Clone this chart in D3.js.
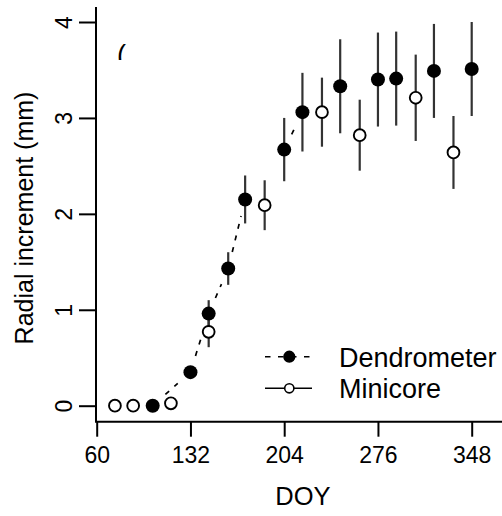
<!DOCTYPE html>
<html>
<head>
<meta charset="utf-8">
<script src="https://cdn.jsdelivr.net/npm/d3@7"></script>
<style>
  body { margin: 0; background: #fff; }
  svg text { font-family: "Liberation Sans", Arial, sans-serif; fill: #000; }
</style>
</head>
<body>
<div id="chart"></div>
<script>
// dendrometer series (filled)
var dendroDOY = [103, 132, 146, 161, 174, 204, 218, 247, 276, 290, 319, 348];
var dendroVal = [0, 0.35, 0.96, 1.43, 2.15, 2.67, 3.06, 3.33, 3.40, 3.41, 3.49, 3.51];
var dendroErr = [0, 0, 0.14, 0.17, 0.25, 0.33, 0.41, 0.49, 0.49, 0.49, 0.49, 0.49];

// minicore series (open)
var miniDOY = [74, 88, 117, 146, 189, 233, 262, 305, 334];
var miniVal = [0, 0, 0.025, 0.77, 2.09, 3.06, 2.82, 3.21, 2.64];
var miniErr = [0, 0, 0, 0.16, 0.26, 0.36, 0.37, 0.45, 0.38];

// which dendrometer points the dashed line joins
var dashPairs = [[103, 132], [132, 146], [146, 161], [161, 174], [204, 218]];

var xTicks = [60, 132, 204, 276, 348];
var yTicks = [0, 1, 2, 3, 4];
var legendLabels = ["Dendrometer", "Minicore"];

var W = 502, H = 516;
var svg = d3.select("#chart").append("svg")
    .attr("width", W).attr("height", H);

var x = d3.scaleLinear().domain([60, 348]).range([96.7, 471.7]);
var y = d3.scaleLinear().domain([0, 4]).range([405.7, 22]);

var axisX = 96, axisY = 421.7;

// L shaped box
svg.append("line")
    .attr("x1", axisX).attr("x2", axisX).attr("y1", 7).attr("y2", axisY)
    .attr("stroke", "#000").attr("stroke-width", 2);
svg.append("line")
    .attr("x1", axisX - 1).attr("x2", W).attr("y1", axisY).attr("y2", axisY)
    .attr("stroke", "#000").attr("stroke-width", 2);

var gy = svg.append("g")
    .attr("transform", "translate(" + axisX + ",0)")
    .call(d3.axisLeft(y).tickValues(yTicks).tickSize(17).tickFormat(d3.format("d")));
gy.select(".domain").remove();
gy.selectAll(".tick line").attr("stroke", "#000").attr("stroke-width", 2);
gy.selectAll(".tick text")
    .attr("transform", "rotate(-90)")
    .attr("x", 0).attr("y", -24).attr("dy", 0)
    .attr("text-anchor", "middle")
    .style("font-size", "23px")
    .style("font-family", '"Liberation Sans", Arial, sans-serif');

var gx = svg.append("g")
    .attr("transform", "translate(0," + axisY + ")")
    .call(d3.axisBottom(x).tickValues(xTicks).tickSize(15).tickFormat(d3.format("d")));
gx.select(".domain").remove();
gx.selectAll(".tick line").attr("stroke", "#000").attr("stroke-width", 2);
gx.selectAll(".tick text")
    .attr("y", 41.6).attr("dy", 0)
    .style("font-size", "23px")
    .style("font-family", '"Liberation Sans", Arial, sans-serif');

// axis titles
svg.append("text")
    .attr("transform", "translate(33,218) rotate(-90)")
    .attr("text-anchor", "middle")
    .style("font-size", "25px")
    .text("Radial increment (mm)");
svg.append("text")
    .attr("x", 303).attr("y", 505)
    .attr("text-anchor", "middle")
    .style("font-size", "25.5px")
    .text("DOY");

// stray clipped bracket near the top
svg.append("clipPath").attr("id", "brk")
  .append("rect").attr("x", 100).attr("y", 30).attr("width", 40).attr("height", 30);
svg.append("text")
    .attr("x", 117).attr("y", 64)
    .attr("clip-path", "url(#brk)")
    .style("font-size", "27px")
    .text("(");

// dashed line, with gaps round the points
var gap = 17;
dashPairs.forEach(function(p) {
  var i0 = dendroDOY.indexOf(p[0]), i1 = dendroDOY.indexOf(p[1]);
  var x0 = x(p[0]), y0 = y(dendroVal[i0]), x1 = x(p[1]), y1 = y(dendroVal[i1]);
  var len = Math.hypot(x1 - x0, y1 - y0);
  if (len <= 2 * gap) return;
  var ux = (x1 - x0) / len, uy = (y1 - y0) / len;
  svg.append("line")
      .attr("x1", x0 + ux * gap).attr("y1", y0 + uy * gap)
      .attr("x2", x1 - ux * gap).attr("y2", y1 - uy * gap)
      .attr("stroke", "#000").attr("stroke-width", 1.7)
      .attr("stroke-dasharray", "5,7");
});

// error bars
function bars(doy, val, err) {
  svg.append("g").selectAll("line")
    .data(doy.map(function(d, i) { return { d: d, v: val[i], e: err[i] }; })
      .filter(function(o) { return o.e > 0; }))
    .enter().append("line")
      .attr("x1", function(o) { return x(o.d); })
      .attr("x2", function(o) { return x(o.d); })
      .attr("y1", function(o) { return y(o.v + o.e); })
      .attr("y2", function(o) { return y(o.v - o.e); })
      .attr("stroke", "#333").attr("stroke-width", 2.2);
}
bars(dendroDOY, dendroVal, dendroErr);
bars(miniDOY, miniVal, miniErr);

svg.append("g").selectAll("circle")
  .data(dendroDOY).enter().append("circle")
    .attr("cx", function(d) { return x(d); })
    .attr("cy", function(d, i) { return y(dendroVal[i]); })
    .attr("r", 7)
    .attr("fill", "#000");

svg.append("g").selectAll("circle")
  .data(miniDOY).enter().append("circle")
    .attr("cx", function(d) { return x(d); })
    .attr("cy", function(d, i) { return y(miniVal[i]); })
    .attr("r", 5.9)
    .attr("fill", "#fff")
    .attr("stroke", "#000").attr("stroke-width", 1.9);

// legend
var lg = svg.append("g");
var legY = [356.7, 388.3];
lg.selectAll("line.key").data(legendLabels).enter().append("line")
    .attr("class", "key")
    .attr("x1", 265).attr("x2", 312)
    .attr("y1", function(d, i) { return legY[i]; })
    .attr("y2", function(d, i) { return legY[i]; })
    .attr("stroke", "#000").attr("stroke-width", 1.6)
    .attr("stroke-dasharray", function(d, i) { return i === 0 ? "5.5,7.5" : null; });
lg.selectAll("circle").data(legendLabels).enter().append("circle")
    .attr("cx", 289.3)
    .attr("cy", function(d, i) { return legY[i]; })
    .attr("r", function(d, i) { return i === 0 ? 5.3 : 4.6; })
    .attr("fill", function(d, i) { return i === 0 ? "#000" : "#fff"; })
    .attr("stroke", "#000").attr("stroke-width", 1.6);
lg.selectAll("text").data(legendLabels).enter().append("text")
    .attr("x", 339)
    .attr("y", function(d, i) { return legY[i] + 10; })
    .style("font-size", "27px")
    .text(function(d) { return d; });
</script>
</body>
</html>
